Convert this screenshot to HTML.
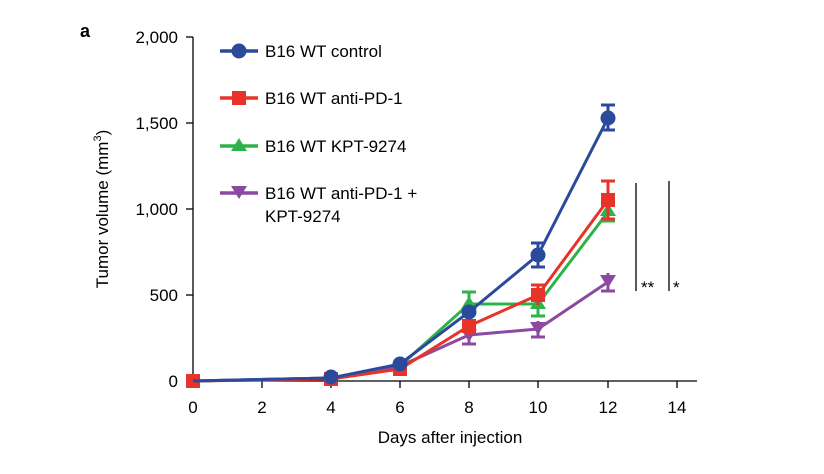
<!DOCTYPE html>
<html><head><style>body{margin:0;background:#fff}</style></head><body>
<svg width="824" height="469" xmlns="http://www.w3.org/2000/svg" font-family="Liberation Sans, sans-serif">
<text x="80" y="37" font-size="18" font-weight="bold">a</text>
<g stroke="#000" stroke-width="1.3" fill="none">
<line x1="193" y1="37" x2="193" y2="381"/>
<line x1="193" y1="381" x2="697" y2="381"/>
<line x1="186" y1="37" x2="193" y2="37"/><line x1="186" y1="123" x2="193" y2="123"/><line x1="186" y1="209" x2="193" y2="209"/><line x1="186" y1="295" x2="193" y2="295"/><line x1="186" y1="381" x2="193" y2="381"/>
<line x1="193" y1="381" x2="193" y2="388"/><line x1="262" y1="381" x2="262" y2="388"/><line x1="331" y1="381" x2="331" y2="388"/><line x1="400" y1="381" x2="400" y2="388"/><line x1="469" y1="381" x2="469" y2="388"/><line x1="538" y1="381" x2="538" y2="388"/><line x1="608" y1="381" x2="608" y2="388"/><line x1="677" y1="381" x2="677" y2="388"/>
<line x1="636" y1="183" x2="636" y2="291"/><line x1="669" y1="181" x2="669" y2="291"/>
</g>
<g font-size="17" text-anchor="end">
<text x="178" y="43">2,000</text><text x="178" y="129">1,500</text><text x="178" y="215">1,000</text><text x="178" y="301">500</text><text x="178" y="387">0</text>
</g>
<g font-size="17" text-anchor="middle">
<text x="193" y="413">0</text><text x="262" y="413">2</text><text x="331" y="413">4</text><text x="400" y="413">6</text><text x="469" y="413">8</text><text x="538" y="413">10</text><text x="608" y="413">12</text><text x="677" y="413">14</text>
<text x="450" y="443">Days after injection</text>
</g>
<text transform="translate(108,209) rotate(-90)" font-size="17" text-anchor="middle">Tumor volume (mm<tspan font-size="11" dy="-7">3</tspan><tspan dy="7">)</tspan></text>
<text x="641" y="293" font-size="17">**</text><text x="673" y="293" font-size="17">*</text>
<g stroke="#2db34a" stroke-width="3" fill="none">
<polyline points="193,381 331,378 400,366 469,304 538,304 608,212"/>
<path d="M469,292V316M462,292h14M538,292V316M531,316h14M608,203V221M601,221h14"/>
</g>
<g fill="#2db34a"><path d="M469,296l8,13h-16z"/><path d="M538,296l8,13h-16z"/><path d="M608,203l8,13h-16z"/></g>
<g stroke="#8b4aa0" stroke-width="3" fill="none">
<polyline points="193,381 331,378 400,366 469,335 538,329 608,282"/>
<path d="M469,326V344M462,344h14M538,321V337M531,337h14M608,273V291M601,291h14"/>
</g>
<g fill="#8b4aa0"><path d="M461,329h16l-8,13z"/><path d="M530,322h16l-8,13z"/><path d="M600,275h16l-8,13z"/></g>
<g stroke="#e8332a" stroke-width="3" fill="none">
<polyline points="193,381 331,379 400,369 469,326 538,295 608,200"/>
<path d="M469,317V335M538,285V305M531,285h14M608,181V219M601,181h14M601,219h14"/>
</g>
<g fill="#e8332a"><rect x="186" y="374" width="14" height="14"/><rect x="324" y="372" width="14" height="14"/><rect x="393" y="362" width="14" height="14"/><rect x="462" y="319" width="14" height="14"/><rect x="531" y="288" width="14" height="14"/><rect x="601" y="193" width="14" height="14"/></g>
<g stroke="#2b4a9b" stroke-width="3" fill="none">
<polyline points="193,381 331,378 400,364 469,312 538,255 608,118"/>
<path d="M538,243V267M531,243h14M531,267h14M608,105V130M601,105h14M601,130h14"/>
</g>
<g fill="#2b4a9b"><circle cx="331" cy="377" r="7.5"/><circle cx="400" cy="364" r="7.5"/><circle cx="469" cy="312" r="7.5"/><circle cx="538" cy="255" r="7.5"/><circle cx="608" cy="118" r="7.5"/></g>
<g stroke-width="3.5"><line x1="220" y1="51" x2="258" y2="51" stroke="#2b4a9b"/><line x1="220" y1="98" x2="258" y2="98" stroke="#e8332a"/><line x1="220" y1="146" x2="258" y2="146" stroke="#2db34a"/><line x1="220" y1="193" x2="258" y2="193" stroke="#8b4aa0"/></g>
<circle cx="239" cy="51" r="7.5" fill="#2b4a9b"/><rect x="232" y="91" width="14" height="14" fill="#e8332a"/><path d="M239,138l8,13h-16z" fill="#2db34a"/><path d="M231,186h16l-8,13z" fill="#8b4aa0"/>
<g font-size="17"><text x="265" y="57">B16 WT control</text><text x="265" y="104">B16 WT anti-PD-1</text><text x="265" y="152">B16 WT KPT-9274</text><text x="265" y="199">B16 WT anti-PD-1 +</text><text x="265" y="222">KPT-9274</text></g>
</svg>
</body></html>
